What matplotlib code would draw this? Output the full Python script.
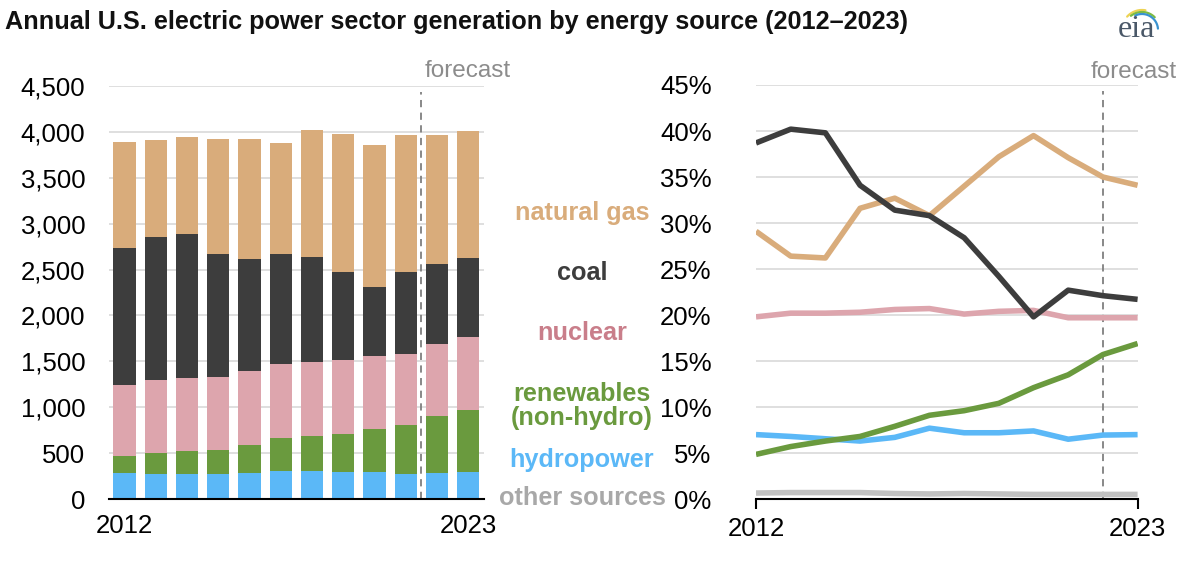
import matplotlib.pyplot as plt
import numpy as np

plt.rcParams['font.family'] = ['Liberation Sans', 'DejaVu Sans']

years = list(range(2012, 2024))

# left chart: generation by source (billion kWh)
hydro = [283, 276, 272, 269, 279, 308, 305, 298, 294, 269, 283, 294]
renewables = [189, 225, 254, 261, 309, 352, 385, 410, 468, 533, 621, 675]
nuclear = [765, 791, 791, 798, 802, 810, 805, 809, 791, 780, 783, 791]
coal = [1503, 1568, 1572, 1339, 1230, 1194, 1143, 958, 762, 893, 871, 867]
gas = [1154, 1048, 1052, 1256, 1299, 1219, 1383, 1499, 1543, 1495, 1408, 1387]

# right chart: share of generation (%)
coal_pct = [38.7, 40.2, 39.8, 34.1, 31.4, 30.8, 28.4, 24.2, 19.8, 22.7, 22.1, 21.7]
gas_pct = [29.1, 26.4, 26.2, 31.6, 32.7, 30.8, 34.0, 37.2, 39.5, 37.1, 35.0, 34.1]
nuclear_pct = [19.8, 20.2, 20.2, 20.3, 20.6, 20.7, 20.1, 20.4, 20.5, 19.7, 19.7, 19.7]
renew_pct = [4.85, 5.7, 6.3, 6.8, 7.9, 9.1, 9.6, 10.4, 12.1, 13.5, 15.7, 16.9]
hydro_pct = [7.0, 6.8, 6.55, 6.3, 6.7, 7.7, 7.2, 7.2, 7.4, 6.5, 6.95, 7.0]
other_pct = [0.65, 0.7, 0.7, 0.7, 0.6, 0.55, 0.6, 0.55, 0.5, 0.5, 0.5, 0.5]

c_gas = '#D9AC7B'
c_coal = '#3D3D3D'
c_nuc = '#DDA5AD'
c_ren = '#6A9A3E'
c_hyd = '#5BB8F7'
c_oth = '#C2C2C2'
grid_c = '#D9D9D9'
fc_gray = '#8C8C8C'
tick_fs = 18.5

fig = plt.figure(figsize=(12, 5.72), dpi=100)

fig.text(0.004, 0.962, "Annual U.S. electric power sector generation by energy source (2012\u20132023)",
         fontsize=18.2, fontweight='bold', va='center', ha='left', color='#111111')

# eia logo, drawn in a small pixel-sized axes
logo = fig.add_axes([1105 / 1200, 1 - 50 / 572, 70 / 1200, 50 / 572])
logo.set_xlim(1105, 1175)
logo.set_ylim(50, 0)
logo.axis('off')
logo.text(1136, 37, "eia", fontsize=23, family='Liberation Serif', color='#4A5868',
          ha='center', va='baseline')
for r, a0, a1, col in [(20, 80, 138, '#EDD354'), (18, 45, 128, '#7DBB42'), (16, 5, 115, '#3A93D0')]:
    t = np.radians(np.linspace(a0, a1, 40))
    logo.plot(1142 + r * np.cos(t), 30 - r * np.sin(t), color=col, lw=1.6, solid_capstyle='round')

# left: stacked bars
ax1 = fig.add_axes([0.0908, 0.1276, 0.3125, 0.7221])
x = np.arange(len(years))
w = 0.71
bottom = np.zeros(len(years))
for vals, col in [(hydro, c_hyd), (renewables, c_ren), (nuclear, c_nuc), (coal, c_coal), (gas, c_gas)]:
    ax1.bar(x, vals, w, bottom=bottom, color=col, zorder=2)
    bottom += np.array(vals)
ax1.set_xlim(-0.5, 11.5)
ax1.set_ylim(0, 4500)
ax1.set_yticks(np.arange(0, 4501, 500))
ax1.set_yticklabels([f"{v:,}" for v in range(0, 4501, 500)])
ax1.grid(axis='y', color=grid_c, lw=1.2, zorder=0)
ax1.set_xticks([0, 11])
ax1.set_xticklabels(['2012', '2023'])
ax1.tick_params(axis='y', length=0, pad=17, labelsize=tick_fs)
ax1.tick_params(axis='x', length=0, pad=11, labelsize=tick_fs)
for s in ['top', 'right', 'left']:
    ax1.spines[s].set_visible(False)
ax1.spines['bottom'].set_linewidth(1.5)
ax1.spines['bottom'].set_zorder(3)
ax1.axvline(9.5, color='#7F7F7F', ls=(0, (4, 3)), lw=1.3, ymax=0.985, zorder=3)
ax1.text(9.6, 4540, "forecast", fontsize=17.5, color=fc_gray, ha='left', va='bottom')

# middle labels
labels = [("natural gas", 0.627, c_gas), ("coal", 0.523, c_coal), ("nuclear", 0.418, '#C97E8A'),
          ("renewables\n(non-hydro)", 0.291, c_ren), ("hydropower", 0.196, c_hyd),
          ("other sources", 0.129, '#A8A8A8')]
for txt, yy, col in labels:
    fig.text(0.485, yy, txt, fontsize=18.2, fontweight='bold', color=col, ha='center', va='center',
             linespacing=1.0)

# right: share lines
ax2 = fig.add_axes([0.63, 0.1276, 0.318, 0.7238])
for vals, col in [(other_pct, c_oth), (hydro_pct, c_hyd), (renew_pct, c_ren),
                  (nuclear_pct, c_nuc), (gas_pct, c_gas), (coal_pct, c_coal)]:
    ax2.plot(years, vals, color=col, lw=4, zorder=3, solid_capstyle='butt')
ax2.set_xlim(2012, 2023)
ax2.set_ylim(0, 45)
ax2.set_yticks(np.arange(0, 46, 5))
ax2.set_yticklabels([f"{v}%" for v in range(0, 46, 5)])
ax2.grid(axis='y', color=grid_c, lw=1.2, zorder=0)
ax2.set_xticks([2012, 2023])
ax2.set_xticklabels(['2012', '2023'])
ax2.tick_params(axis='y', length=0, pad=32, labelsize=tick_fs)
ax2.tick_params(axis='x', length=7, width=1.5, direction='out', pad=6, labelsize=tick_fs)
for s in ['top', 'right', 'left']:
    ax2.spines[s].set_visible(False)
ax2.spines['bottom'].set_linewidth(1.5)
ax2.axvline(2022, color='#7F7F7F', ls=(0, (4, 3)), lw=1.3, ymax=0.985, zorder=2)
ax2.text(2021.65, 45.2, "forecast", fontsize=17.5, color=fc_gray, ha='left', va='bottom')

fig.savefig("out.png", dpi=100)
